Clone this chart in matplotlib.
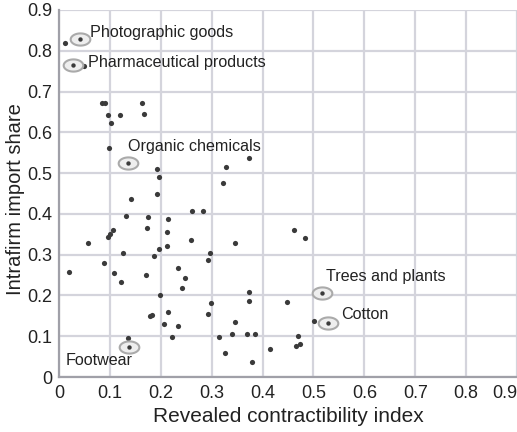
import matplotlib
matplotlib.use("Agg")
import matplotlib.pyplot as plt
import numpy as np
from matplotlib.path import Path

plt.rcParams['font.family'] = ['Liberation Sans', 'DejaVu Sans']

# Revealed contractibility index (x) and intrafirm import share (y)
x_vals = [0.012, 0.050, 0.084, 0.091, 0.163, 0.096, 0.119, 0.168, 0.102, 0.099,
          0.192, 0.196, 0.192, 0.329, 0.322, 0.373, 0.142, 0.131, 0.175, 0.261,
          0.283, 0.173, 0.214, 0.212, 0.212, 0.196, 0.186, 0.107, 0.100, 0.096,
          0.057, 0.259, 0.345, 0.296, 0.293, 0.125, 0.020, 0.089, 0.108, 0.122,
          0.171, 0.234, 0.247, 0.242, 0.199, 0.373, 0.462, 0.483, 0.501, 0.373,
          0.449, 0.298, 0.293, 0.345, 0.315, 0.340, 0.370, 0.386, 0.470, 0.465,
          0.474, 0.414, 0.327, 0.380, 0.178, 0.183, 0.214, 0.207, 0.234, 0.223,
          0.135]
y_vals = [0.818, 0.763, 0.673, 0.673, 0.673, 0.642, 0.642, 0.644, 0.624, 0.562,
          0.511, 0.491, 0.450, 0.514, 0.476, 0.538, 0.436, 0.395, 0.393, 0.407,
          0.407, 0.366, 0.387, 0.355, 0.322, 0.314, 0.297, 0.360, 0.350, 0.344,
          0.329, 0.337, 0.329, 0.303, 0.287, 0.305, 0.257, 0.280, 0.256, 0.234,
          0.250, 0.268, 0.243, 0.219, 0.201, 0.208, 0.360, 0.340, 0.137, 0.186,
          0.183, 0.181, 0.154, 0.134, 0.099, 0.105, 0.105, 0.105, 0.100, 0.076,
          0.080, 0.068, 0.058, 0.036, 0.150, 0.152, 0.159, 0.131, 0.126, 0.099,
          0.095]

# Highlighted (circled) industries
label_names = ["Photographic goods", "Pharmaceutical products", "Organic chemicals",
               "Trees and plants", "Cotton", "Footwear"]
label_x = [0.041, 0.028, 0.135, 0.516, 0.529, 0.137]
label_y = [0.828, 0.766, 0.526, 0.207, 0.133, 0.074]

x_ticks = [0, 0.1, 0.2, 0.3, 0.4, 0.5, 0.6, 0.7, 0.8, 0.9]
y_ticks = [0, 0.1, 0.2, 0.3, 0.4, 0.5, 0.6, 0.7, 0.8, 0.9]
tick_labels = ["0", "0.1", "0.2", "0.3", "0.4", "0.5", "0.6", "0.7", "0.8", "0.9"]

fig = plt.figure(figsize=(5.17, 4.32), dpi=100)
ax = fig.add_axes([59 / 517, 55 / 432, 458 / 517, 367 / 432])

ax.set_xlim(0, 0.9)
ax.set_ylim(0, 0.9)
ax.set_xticks(x_ticks)
ax.set_yticks(y_ticks)
ax.set_xticklabels(tick_labels)
ax.set_yticklabels(tick_labels)
ax.tick_params(length=0, labelsize=13, colors='#222222')
ax.tick_params(axis='y', pad=5)
ax.tick_params(axis='x', pad=6)
ax.get_xticklabels()[-1].set_horizontalalignment('right')

ax.grid(True, color='#d4d4dc', linewidth=1.6)
ax.set_axisbelow(True)
for s in ['top', 'right']:
    ax.spines[s].set_visible(False)
for s in ['left', 'bottom']:
    ax.spines[s].set_color('#a0a0a8')
    ax.spines[s].set_linewidth(1.6)

# regular points
ax.scatter(x_vals, y_vals, s=14, color='#3a3a3a', zorder=3, linewidths=0)

# circled points
theta = np.linspace(0, 2 * np.pi, 60)
ell = Path(np.column_stack([np.cos(theta), 0.62 * np.sin(theta)]), closed=True)
ax.scatter(label_x, label_y, s=200, marker=ell, facecolors='#eeeeee',
           edgecolors='#aaaaaa', linewidths=1.5, zorder=3)
ax.scatter(label_x, label_y, s=10, color='#3a3a3a', zorder=4, linewidths=0)

offsets = {
    "Photographic goods": (7, 5, 'left'),
    "Pharmaceutical products": (10.5, 1.5, 'left'),
    "Organic chemicals": (0.5, 11.5, 'left'),
    "Trees and plants": (3, 11.5, 'left'),
    "Cotton": (9, 6, 'left'),
    "Footwear": (-45.5, -10, 'left'),
}
for name, lx, ly in zip(label_names, label_x, label_y):
    dx, dy, ha = offsets[name]
    ax.annotate(name, (lx, ly), xytext=(dx, dy), textcoords='offset points',
                ha=ha, va='center', fontsize=11.6, color='#222222', zorder=5)

ax.set_xlabel("Revealed contractibility index", fontsize=15, color='#222222', labelpad=3)
ax.set_ylabel("Intrafirm import share", fontsize=14.5, color='#222222')
ax.yaxis.set_label_coords(-0.074, 0.485)

fig.savefig("out.png", dpi=100)
